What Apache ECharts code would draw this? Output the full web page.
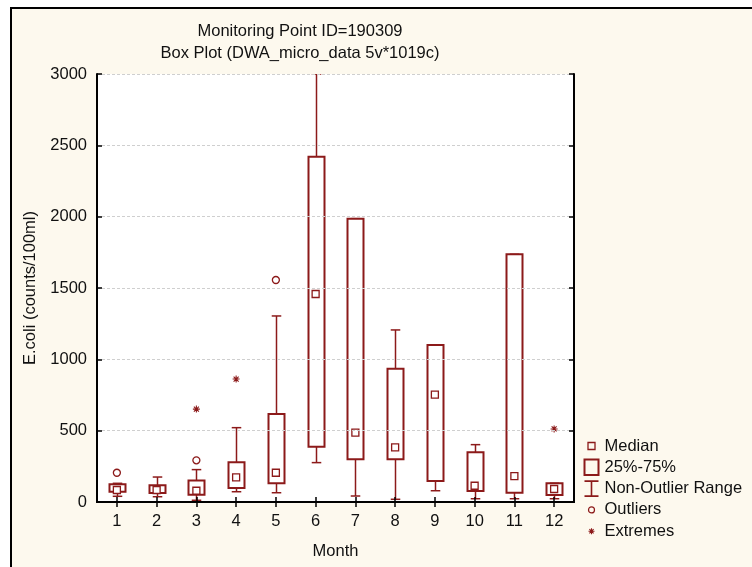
<!DOCTYPE html>
<html>
<head>
<meta charset="utf-8">
<title>Monitoring Point ID=190309</title>
<script src="https://cdn.jsdelivr.net/npm/echarts@6/dist/echarts.min.js"></script>
<style>
  html, body { margin: 0; padding: 0; background: #fff; }
  #chart { width: 752px; height: 567px; }
</style>
</head>
<body>
<div id="chart"></div>
<script>
const months = ["1", "2", "3", "4", "5", "6", "7", "8", "9", "10", "11", "12"];
const medians = [84, 84, 79, 173, 205, 1458, 486, 383, 752, 114, 182, 91];
const q1 = [72, 63, 51, 98, 131, 388, 299, 299, 147, 77, 65, 49];
const q3 = [124, 117, 150, 278, 617, 2420, 1986, 934, 1100, 348, 1736, 131];
const rangeLow = [40, 37, 12, 72, 65, 276, 42, 19, 79, 23, 23, 23];
const rangeHigh = [131, 175, 227, 521, 1304, 3000, 1986, 1206, 1100, 402, 1736, 131];
// [month index, value]
const outliers = [[0, 205], [2, 292], [4, 1556]];
const extremes = [[2, 651], [3, 862], [11, 512]];

const RED = "#8c1a1a";
const INK = "#111";
const FONT = "'Liberation Sans', Arial, sans-serif";
const FONT_SIZE = 16.5;

// icons padded to a 16x17 box with bare moveTo points so that they keep their size
const ICONS = {
  median: "path://M0 0M16 17M4.5 5h7v7h-7z",
  box: "path://M0 0M16 17M1 0.8h14v15.4h-14z",
  range: "path://M0 0M16 17M1 1H15M8 1V16M1 16H15",
  outlier: "path://M0 0M16 17M11 8.5A3 3 0 1 1 5 8.5A3 3 0 1 1 11 8.5Z",
  extreme: "path://M0 0M16 17M5 8.5H11M8 5.5V11.5M5.9 6.4L10.1 10.6M10.1 6.4L5.9 10.6",
};
const ASTERISK = "path://M0 3.5H7M3.5 0V7M1 1L6 6M6 1L1 6";

function renderBox(params, api) {
  const x = api.value(0);
  const lo = api.coord([x, api.value(1)]);
  const hi = api.coord([x, api.value(2)]);
  const w = Math.round(api.size([1, 0])[0] * 0.4);
  return {
    type: "rect",
    shape: { x: Math.round(lo[0] - w / 2) + 0.5, y: hi[1], width: w, height: lo[1] - hi[1] },
    style: { fill: "#fff", stroke: RED, lineWidth: 2 },
  };
}

function renderRange(params, api) {
  const x = api.value(0);
  const low = api.coord([x, api.value(1)]);
  const boxLow = api.coord([x, api.value(2)]);
  const boxHigh = api.coord([x, api.value(3)]);
  const high = api.coord([x, api.value(4)]);
  const cx = Math.round(low[0]) + 0.5;
  const half = api.size([1, 0])[0] * 0.12;
  const style = { stroke: RED, lineWidth: 1.5 };
  const line = (x1, y1, x2, y2) => ({ type: "line", shape: { x1, y1, x2, y2 }, style });
  return {
    type: "group",
    children: [
      line(cx, high[1], cx, boxHigh[1]),
      line(cx - half, high[1], cx + half, high[1]),
      line(cx, boxLow[1], cx, low[1]),
      line(cx - half, low[1], cx + half, low[1]),
    ],
  };
}

const chart = echarts.init(document.getElementById("chart"));

const axisLine = { show: true, lineStyle: { color: "#000", width: 2 } };
const axisTick = { show: true, inside: true, length: 5, lineStyle: { color: "#000", width: 1.5 } };
const labelText = { color: INK, fontSize: FONT_SIZE, fontFamily: FONT };

chart.setOption({
  backgroundColor: "#fff",
  animation: false,
  textStyle: { fontFamily: FONT },
  graphic: [
    {
      type: "rect",
      z: -10,
      shape: { x: 11, y: 8, width: 780, height: 600 },
      style: { fill: "#fdf9ee", stroke: "#000", lineWidth: 2 },
    },
  ],
  title: {
    text: "Monitoring Point ID=190309\nBox Plot (DWA_micro_data 5v*1019c)",
    left: 300,
    top: 20,
    textAlign: "center",
    padding: 0,
    textStyle: { color: INK, fontSize: FONT_SIZE, fontWeight: "normal", lineHeight: 22, fontFamily: FONT },
  },
  grid: {
    left: 97,
    top: 74,
    right: 178,
    bottom: 65,
    show: true,
    backgroundColor: "#fff",
    borderWidth: 0,
  },
  legend: {
    orient: "vertical",
    left: 581,
    top: 435,
    padding: 0,
    itemWidth: 16,
    itemHeight: 17,
    itemGap: -0.7,
    selectedMode: false,
    textStyle: { ...labelText, lineHeight: 17 },
    data: [
      { name: "Median", icon: ICONS.median, itemStyle: { color: "none", borderColor: RED, borderWidth: 1.3 } },
      { name: "25%-75%", icon: ICONS.box, itemStyle: { color: "none", borderColor: RED, borderWidth: 2 } },
      { name: "Non-Outlier Range", icon: ICONS.range, itemStyle: { color: "none", borderColor: RED, borderWidth: 1.6 } },
      { name: "Outliers", icon: ICONS.outlier, itemStyle: { color: "none", borderColor: RED, borderWidth: 1.2 } },
      { name: "Extremes", icon: ICONS.extreme, itemStyle: { color: "none", borderColor: RED, borderWidth: 1.1 } },
    ],
  },
  xAxis: [
    {
      type: "category",
      data: months,
      position: "bottom",
      name: "Month",
      nameLocation: "middle",
      nameGap: 41,
      nameTextStyle: labelText,
      axisLine,
      axisTick: { ...axisTick, alignWithLabel: true },
      axisLabel: { ...labelText, margin: 11 },
      splitLine: { show: false },
      z: 10,
    },
    {
      type: "category",
      data: months,
      position: "top",
      axisLine,
      axisTick: { ...axisTick, alignWithLabel: true },
      axisLabel: { show: false },
      splitLine: { show: false },
      z: 10,
    },
  ],
  yAxis: [
    {
      type: "value",
      min: 0,
      max: 3000,
      interval: 500,
      name: "E.coli (counts/100ml)",
      nameLocation: "middle",
      nameGap: 55,
      nameTextStyle: labelText,
      axisLine,
      axisTick,
      axisLabel: { ...labelText, margin: 10, formatter: (v) => String(v) },
      splitLine: { show: true, lineStyle: { color: "#cfcfcf", type: [3, 2], width: 1 } },
      z: 10,
    },
    {
      type: "value",
      min: 0,
      max: 3000,
      interval: 500,
      position: "right",
      axisLine,
      axisTick,
      axisLabel: { show: false },
      splitLine: { show: false },
      z: 10,
    },
  ],
  series: [
    {
      name: "Non-Outlier Range",
      type: "custom",
      renderItem: renderRange,
      clip: true,
      itemStyle: { color: RED },
      encode: { x: 0, y: [1, 2, 3, 4] },
      data: months.map((m, i) => [i, rangeLow[i], q1[i], q3[i], rangeHigh[i]]),
      z: 2,
    },
    {
      name: "25%-75%",
      type: "custom",
      renderItem: renderBox,
      clip: true,
      itemStyle: { color: RED },
      encode: { x: 0, y: [1, 2] },
      data: months.map((m, i) => [i, q1[i], q3[i]]),
      z: 3,
    },
    {
      name: "Median",
      type: "scatter",
      symbol: "rect",
      symbolSize: 7,
      itemStyle: { color: "#fff", borderColor: RED, borderWidth: 1.3, opacity: 1 },
      data: months.map((m, i) => [i, medians[i]]),
      z: 4,
    },
    {
      name: "Outliers",
      type: "scatter",
      symbol: "circle",
      symbolSize: 7,
      itemStyle: { color: "#fff", borderColor: RED, borderWidth: 1.3, opacity: 1 },
      data: outliers,
      z: 4,
    },
    {
      name: "Extremes",
      type: "scatter",
      symbol: ASTERISK,
      symbolSize: 7,
      itemStyle: { color: "none", borderColor: RED, borderWidth: 1.1, opacity: 1 },
      data: extremes,
      z: 4,
    },
  ],
});
</script>
</body>
</html>
